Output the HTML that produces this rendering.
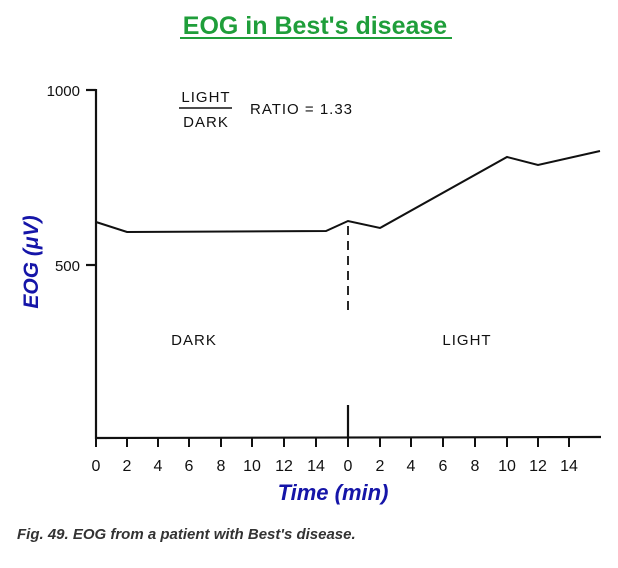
<!DOCTYPE html>
<html><head><style>
body{margin:0;background:#fff;width:618px;height:563px;overflow:hidden}
</style></head><body>
<svg width="618" height="563" xmlns="http://www.w3.org/2000/svg" font-family="Liberation Sans, sans-serif">
<text x="315" y="34" text-anchor="middle" font-size="25" font-weight="bold" fill="#1f9e3a">EOG in Best's disease</text>
<line x1="180" y1="38" x2="452" y2="38" stroke="#1f9e3a" stroke-width="2"/>
<g stroke="#111" stroke-width="2.2" fill="none">
<line x1="96" y1="89" x2="96" y2="439"/>
<line x1="86" y1="90" x2="96" y2="90"/>
<line x1="86" y1="265" x2="96" y2="265"/>
<line x1="95" y1="438" x2="601" y2="437"/>
<line x1="348" y1="405" x2="348" y2="438"/>
<line x1="348" y1="226" x2="348" y2="312" stroke-dasharray="9,6" stroke-width="1.8"/>
<polyline points="96,222 127,232 326,231 348,221 380,228 507,157 538,165 600,151" stroke-width="2"/>
<g stroke-width="2">
<line x1="96" y1="438" x2="96" y2="447"/><line x1="127" y1="438" x2="127" y2="447"/><line x1="158" y1="438" x2="158" y2="447"/><line x1="189" y1="438" x2="189" y2="447"/><line x1="221" y1="438" x2="221" y2="447"/><line x1="252" y1="438" x2="252" y2="447"/><line x1="284" y1="438" x2="284" y2="447"/><line x1="316" y1="438" x2="316" y2="447"/><line x1="348" y1="438" x2="348" y2="447"/><line x1="380" y1="438" x2="380" y2="447"/><line x1="411" y1="438" x2="411" y2="447"/><line x1="443" y1="438" x2="443" y2="447"/><line x1="475" y1="438" x2="475" y2="447"/><line x1="507" y1="438" x2="507" y2="447"/><line x1="538" y1="438" x2="538" y2="447"/><line x1="569" y1="438" x2="569" y2="447"/>
</g>
<line x1="179" y1="108" x2="232" y2="108" stroke-width="1.5"/>
</g>
<g font-size="16" fill="#111" text-anchor="middle">
<text x="96" y="471">0</text><text x="127" y="471">2</text><text x="158" y="471">4</text><text x="189" y="471">6</text><text x="221" y="471">8</text><text x="252" y="471">10</text><text x="284" y="471">12</text><text x="316" y="471">14</text><text x="348" y="471">0</text><text x="380" y="471">2</text><text x="411" y="471">4</text><text x="443" y="471">6</text><text x="475" y="471">8</text><text x="507" y="471">10</text><text x="538" y="471">12</text><text x="569" y="471">14</text>
</g>
<g font-size="15" fill="#111">
<text x="80" y="96" text-anchor="end">1000</text>
<text x="80" y="271" text-anchor="end">500</text>
<text x="206" y="102" text-anchor="middle" letter-spacing="1">LIGHT</text>
<text x="206" y="127" text-anchor="middle" letter-spacing="1">DARK</text>
<text x="250" y="114" letter-spacing="1">RATIO = 1.33</text>
<text x="194" y="345" text-anchor="middle" letter-spacing="1">DARK</text>
<text x="467" y="345" text-anchor="middle" letter-spacing="1">LIGHT</text>
</g>
<text transform="translate(38,262) rotate(-90)" text-anchor="middle" font-size="21" font-weight="bold" font-style="italic" fill="#1515a8">EOG (μV)</text>
<text x="333" y="500" text-anchor="middle" font-size="22" font-weight="bold" font-style="italic" fill="#1515a8">Time (min)</text>
<text x="17" y="539" font-size="15" font-weight="bold" font-style="italic" fill="#333">Fig. 49. EOG from a patient with Best's disease.</text>
</svg>
</body></html>
